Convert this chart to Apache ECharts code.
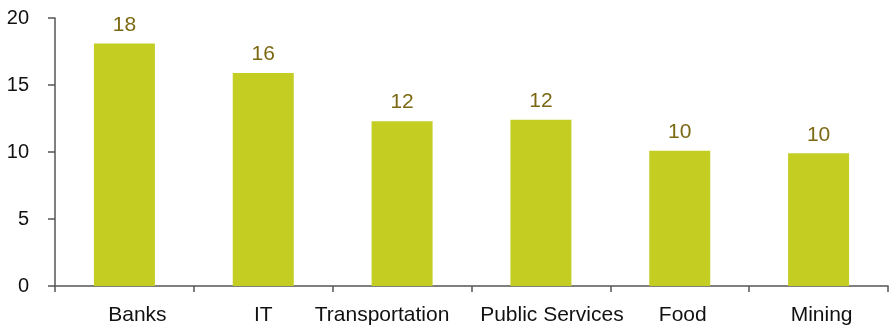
<!DOCTYPE html>
<html>
<head>
<meta charset="utf-8">
<script src="https://cdn.jsdelivr.net/npm/echarts@6/dist/echarts.min.js"></script>
<style>
  html, body { margin: 0; padding: 0; background: #ffffff; }
  #chart { width: 889px; height: 327px; }
</style>
</head>
<body>
<div id="chart"></div>
<script>
// Sector categories and their values
const categories = ['Banks', 'IT', 'Transportation', 'Public Services', 'Food', 'Mining'];
const values = [18.1, 15.9, 12.3, 12.4, 10.1, 9.9];
const yTicks = [0, 5, 10, 15, 20];

const chart = echarts.init(document.getElementById('chart'), null, { renderer: 'canvas' });
const font = '"Liberation Sans", Arial, sans-serif';
const axisColor = '#555555';

// Horizontal nudges (px) for the category labels so long names don't collide
const labelNudge = [13, 0, -20, 11, 3, 3];
const rich = {};
labelNudge.forEach((n, i) => {
  rich['c' + i] = {
    color: '#111111',
    fontSize: 21,
    fontFamily: font,
    padding: [0, n < 0 ? -2 * n : 0, 0, n > 0 ? 2 * n : 0]
  };
});

chart.setOption({
  animation: false,
  backgroundColor: '#ffffff',
  grid: { left: 55, right: 1, top: 18, bottom: 41, containLabel: false },
  xAxis: {
    type: 'category',
    data: categories,
    boundaryGap: true,
    axisLine: { show: true, lineStyle: { color: axisColor, width: 1.5 } },
    axisTick: { show: true, length: 6, inside: false, lineStyle: { color: axisColor, width: 1.5 } },
    axisLabel: {
      color: '#111111', fontSize: 21, fontFamily: font, margin: 19, interval: 0,
      formatter: (v, i) => '{c' + i + '|' + v + '}',
      rich: rich
    },
    splitLine: { show: false }
  },
  yAxis: {
    type: 'value',
    min: yTicks[0],
    max: yTicks[yTicks.length - 1],
    interval: yTicks[1] - yTicks[0],
    axisLine: { show: true, lineStyle: { color: axisColor, width: 1.5 } },
    axisTick: { show: true, length: 7, lineStyle: { color: axisColor, width: 1.5 } },
    axisLabel: { color: '#111111', fontSize: 20, fontFamily: font, margin: 26 },
    splitLine: { show: false }
  },
  series: [{
    type: 'bar',
    data: values,
    barWidth: 61,
    itemStyle: { color: '#C3CD22' },
    label: {
      show: true,
      position: 'top',
      distance: 8,
      color: '#7C6914',
      fontSize: 21,
      fontFamily: font,
      formatter: p => Math.round(p.value).toString()
    }
  }]
});
</script>
</body>
</html>
